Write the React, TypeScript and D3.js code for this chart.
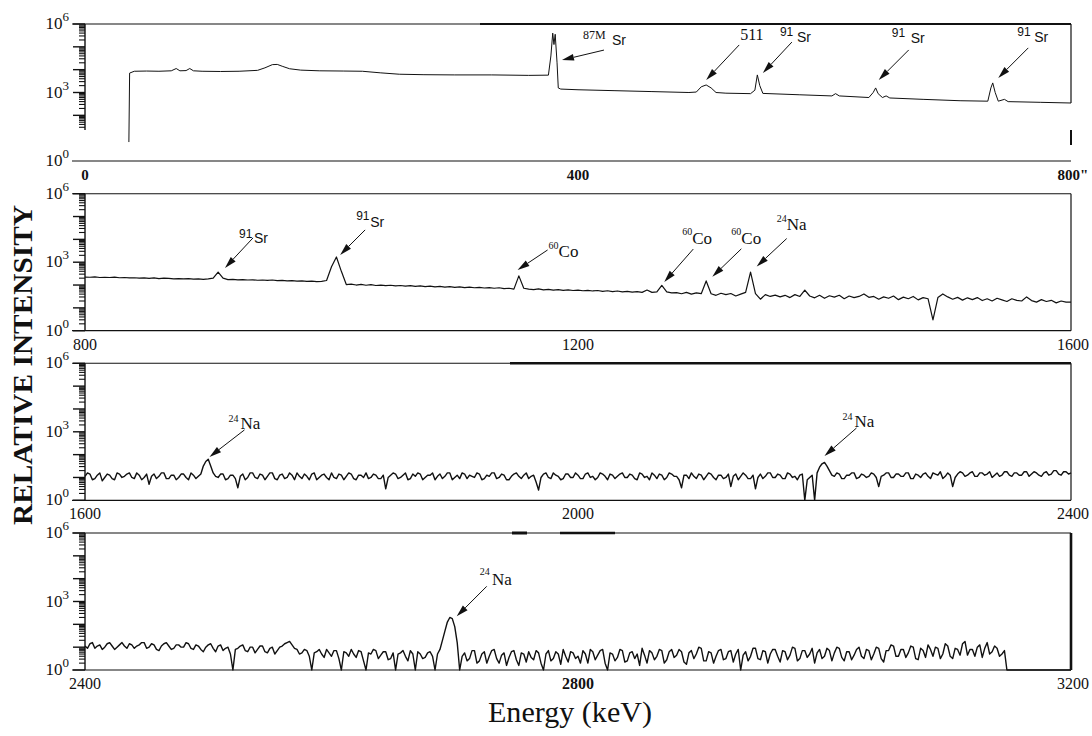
import React from "react";
import * as d3 from "d3";

// ---------------- data ----------------
const panelStartKeV = [0, 800, 1600, 2400];
const panelSpanKeV = 800;
const xTickLabels = [
  ["0", "400", "800\""],
  ["800", "1200", "1600"],
  ["1600", "2000", "2400"],
  ["2400", "2800", "3200"],
];
const yTickExponents = [0, 3, 6];

// Panel 1 (0–800 keV): energy (keV) and log10 of the relative intensity
const p1Energy = [35.6, 36.2, 40, 50, 60, 70, 74, 77, 82, 85, 88, 95, 110, 125, 140, 146, 152, 156, 160, 166, 175, 190, 210, 225, 240, 255, 275, 300, 330, 360, 376, 378, 379.5, 380.5, 381.5, 383, 384, 386, 400, 430, 460, 490, 496, 500, 504, 508, 512, 520, 540, 543.5, 545.5, 547.5, 550, 580, 606, 609, 612, 636, 639.5, 641.5, 643.5, 647, 650, 653, 680, 710, 732.5, 735, 736.5, 738.5, 741, 746, 749, 775, 800];
const p1Log = [0.83, 3.85, 3.93, 3.94, 3.93, 3.95, 4.05, 3.95, 3.96, 4.05, 3.95, 3.93, 3.92, 3.93, 3.97, 4.08, 4.22, 4.23, 4.15, 4.04, 3.98, 3.95, 3.94, 3.93, 3.86, 3.8, 3.78, 3.77, 3.77, 3.75, 3.76, 4.6, 5.6, 5.1, 5.55, 4.3, 3.2, 3.15, 3.12, 3.08, 3.04, 3.0, 3.02, 3.25, 3.33, 3.2, 3.0, 2.97, 2.95, 3.1, 3.77, 3.3, 2.96, 2.9, 2.85, 2.95, 2.85, 2.78, 3.0, 3.2, 2.95, 2.78, 2.85, 2.76, 2.7, 2.64, 2.62, 3.2, 3.42, 3.0, 2.62, 2.7, 2.6, 2.57, 2.54];

// Panel 2 (800–1600 keV): one channel every 4 keV, log10 intensity
const p2StepKeV = 4;
const p2Log = [
  2.35, 2.34, 2.36, 2.33, 2.34, 2.33, 2.35, 2.32, 2.33, 2.31,
  2.32, 2.30, 2.31, 2.29, 2.31, 2.28, 2.30, 2.29, 2.27, 2.28,
  2.27, 2.28, 2.26, 2.27, 2.25, 2.27, 2.30, 2.57, 2.30, 2.24,
  2.25, 2.23, 2.24, 2.22, 2.23, 2.21, 2.22, 2.20, 2.22, 2.19,
  2.20, 2.18, 2.19, 2.17, 2.18, 2.16, 2.17, 2.15, 2.16, 2.20,
  2.80, 3.23, 2.60, 2.02, 2.04, 2.00, 2.03, 1.99, 2.02, 1.98,
  2.00, 1.97, 1.99, 1.96, 1.98, 1.95, 1.97, 1.94, 1.96, 1.93,
  1.95, 1.92, 1.94, 1.91, 1.93, 1.90, 1.92, 1.89, 1.91, 1.88,
  1.90, 1.87, 1.89, 1.86, 1.88, 1.84, 1.86, 1.82, 2.40, 1.86,
  1.82, 1.80, 1.83, 1.79, 1.81, 1.78, 1.80, 1.77, 1.79, 1.76,
  1.78, 1.75, 1.77, 1.74, 1.76, 1.72, 1.75, 1.71, 1.74, 1.70,
  1.72, 1.69, 1.71, 1.68, 1.78, 1.68, 1.70, 1.98, 1.70, 1.66,
  1.67, 1.62, 1.68, 1.60, 1.66, 1.62, 2.18, 1.62, 1.55, 1.64,
  1.58, 1.63, 1.52, 1.60, 1.68, 2.57, 1.62, 1.38, 1.58, 1.50,
  1.56, 1.48, 1.55, 1.45, 1.58, 1.50, 1.78, 1.52, 1.44, 1.55,
  1.42, 1.53, 1.47, 1.55, 1.40, 1.52, 1.45, 1.50, 1.61, 1.46,
  1.50, 1.38, 1.48, 1.42, 1.52, 1.36, 1.47, 1.40, 1.50, 1.35,
  1.45, 1.40, 0.47, 1.45, 1.61, 1.48, 1.38, 1.46, 1.34, 1.44,
  1.36, 1.45, 1.32, 1.40, 1.30, 1.42, 1.35, 1.28, 1.40, 1.33,
  1.30, 1.48, 1.32, 1.25, 1.36, 1.28, 1.33, 1.22, 1.30, 1.25,
  1.25,
];

// Panels 3 and 4: one channel every 2 keV, log10 intensity
const p34StepKeV = 2;
const p3Log = [
  1.05, 1.2, 1.15, 0.9, 0.95, 1.1, 1.2, 0.85, 1.0, 1.15, 1.1, 0.95, 0.9, 1.2, 1.15, 1.0, 1.05, 1.15, 1.2, 1.0,
  0.95, 1.2, 1.1, 0.9, 1.0, 1.15, 0.7, 1.05, 1.15, 0.95, 1.05, 1.2, 1.2, 0.95, 0.95, 1.1, 1.1, 0.9, 1.0, 1.15,
  1.15, 1.0, 0.9, 1.2, 1.1, 0.95, 1.05, 1.15, 1.5, 1.7, 1.8, 1.5, 1.2, 1.05, 1.0, 1.15, 1.15, 0.9, 0.95, 1.1,
  1.1, 0.95, 0.55, 1.05, 1.15, 0.9, 1.0, 1.2, 1.2, 1.0, 0.95, 1.15, 1.1, 0.9, 1.05, 1.2, 1.2, 0.95, 0.9, 1.1,
  1.15, 0.95, 1.0, 1.2, 1.1, 0.9, 1.2, 1.05, 0.95, 1.15, 1.05, 0.9, 1.15, 1.2, 0.9, 1.0, 1.1, 1.15, 1.0, 0.9,
  1.2, 1.0, 0.95, 1.15, 1.1, 0.9, 1.05, 1.2, 1.15, 0.95, 0.9, 1.1, 1.1, 1.0, 1.2, 0.95, 1.0, 1.15, 1.1, 0.95,
  0.95, 1.1, 0.5, 1.0, 1.1, 1.2, 1.15, 0.95, 1.0, 1.1, 1.2, 0.9, 0.95, 1.15, 1.05, 1.2, 1.15, 0.9, 1.0, 1.1,
  1.1, 1.2, 0.9, 1.05, 1.15, 0.95, 1.05, 1.2, 1.2, 0.9, 1.0, 1.1, 0.95, 1.2, 1.15, 0.95, 1.1, 1.05, 1.0, 1.2,
  1.15, 0.9, 0.95, 1.1, 1.05, 1.2, 1.2, 0.95, 1.0, 1.15, 1.1, 0.9, 0.9, 1.05, 1.15, 1.2, 1.05, 0.95, 1.1, 1.2,
  0.95, 1.05, 1.1, 0.8, 0.45, 1.0, 1.15, 1.2, 1.0, 0.95, 1.2, 1.1, 1.05, 0.9, 0.95, 1.15, 1.15, 1.0, 1.0, 1.2,
  1.1, 0.95, 0.95, 1.15, 1.2, 1.0, 1.05, 0.9, 1.0, 1.2, 1.15, 1.05, 0.9, 1.15, 1.1, 0.95, 1.05, 1.15, 1.2, 1.0,
  1.0, 1.15, 1.1, 0.95, 0.9, 1.2, 1.15, 1.0, 1.05, 0.9, 1.2, 1.1, 0.95, 1.15, 1.1, 0.9, 1.0, 1.2, 1.15, 1.05,
  1.05, 0.9, 0.55, 1.1, 1.1, 0.95, 1.2, 1.05, 0.95, 1.15, 1.1, 0.9, 1.05, 1.2, 1.15, 1.0, 0.9, 1.1, 1.1, 0.95,
  1.0, 1.15, 0.6, 1.05, 1.15, 0.9, 1.05, 1.2, 1.1, 0.95, 0.95, 1.1, 0.5, 1.0, 1.15, 0.95, 1.05, 1.2, 1.2, 1.0,
  1.0, 1.15, 1.1, 0.95, 0.95, 1.2, 1.15, 1.0, 1.05, 0.9, 1.1, 1.15, 0.0, 0.9, 1.0, 1.1, 0.0, 1.2, 1.45, 1.6,
  1.66, 1.5, 1.3, 1.1, 1.05, 1.2, 1.15, 0.95, 0.95, 1.1, 1.1, 1.2, 1.2, 0.95, 1.0, 1.15, 1.1, 1.0, 1.05, 1.2,
  1.15, 1.0, 0.6, 1.05, 1.1, 1.2, 1.2, 1.0, 1.0, 1.15, 1.15, 1.05, 1.05, 1.2, 1.2, 0.95, 0.95, 1.15, 1.1, 1.0,
  1.15, 1.2, 1.05, 0.95, 1.2, 1.15, 1.1, 1.25, 0.95, 1.05, 1.2, 1.1, 0.6, 1.0, 1.15, 1.25, 1.2, 1.05, 1.1, 1.2,
  1.25, 1.05, 1.05, 1.2, 1.2, 1.1, 1.15, 1.25, 1.0, 1.1, 1.2, 1.05, 1.1, 1.25, 1.25, 1.1, 1.05, 1.2, 1.2, 1.1,
  1.1, 1.25, 1.25, 1.05, 1.15, 1.25, 1.2, 1.1, 1.05, 1.2, 1.25, 1.1, 1.15, 1.3, 1.3, 1.15, 1.1, 1.25, 1.25, 1.15,
  1.2,
];
const p4Log = [
  1.05, 0.95, 1.15, 1.2, 0.95, 1.05, 1.1, 0.9, 1.0, 1.15, 1.2, 1.05, 0.9, 1.0, 1.1, 1.2, 1.05, 0.95, 1.15, 1.1,
  0.95, 1.05, 1.1, 1.2, 1.2, 0.95, 1.0, 1.15, 1.1, 0.9, 0.85, 1.05, 1.15, 1.2, 1.05, 0.9, 0.95, 1.1, 1.1, 1.0,
  1.0, 1.2, 1.15, 0.95, 0.9, 1.1, 1.05, 0.9, 0.8, 1.0, 1.1, 1.15, 0.95, 0.8, 1.05, 1.1, 0.85, 0.95, 1.0, 0.7,
  0.0, 0.9, 0.95, 1.05, 1.1, 0.85, 0.8, 1.0, 1.0, 0.75, 0.9, 1.05, 1.05, 0.8, 0.75, 0.95, 1.0, 0.7, 0.85, 1.0,
  1.05, 1.15, 1.2, 1.25, 1.1, 0.95, 0.9, 0.7, 0.75, 0.9, 0.85, 0.6, 0.0, 0.75, 0.8, 0.9, 0.7, 0.55, 0.9, 0.75,
  0.6, 0.85, 0.85, 0.5, 0.0, 0.8, 0.75, 0.6, 0.9, 0.7, 0.55, 0.85, 0.8, 0.4, 0.0, 0.75, 0.7, 0.9, 0.85, 0.5,
  0.65, 0.8, 0.8, 0.45, 0.5, 0.75, 0.0, 0.7, 0.75, 0.85, 0.6, 0.4, 0.85, 0.7, 0.0, 0.8, 0.7, 0.5, 0.55, 0.75,
  0.8, 0.6, 0.0, 0.7, 0.9, 1.3, 1.7, 2.1, 2.3, 2.25, 1.9, 1.2, 0.0, 0.6, 0.75, 0.4, 0.5, 0.85, 0.85, 0.3,
  0.4, 0.7, 0.8, 0.3, 0.6, 0.85, 0.9, 0.5, 0.3, 0.65, 0.75, 0.2, 0.55, 0.8, 0.85, 0.45, 0.2, 0.75, 0.7, 0.35,
  0.8, 0.55, 0.45, 0.85, 0.75, 0.3, 0.0, 0.7, 0.85, 0.4, 0.5, 0.8, 0.7, 0.25, 0.9, 0.6, 0.35, 0.8, 0.75, 0.5,
  0.6, 0.3, 0.85, 0.7, 0.3, 0.9, 0.8, 0.45, 0.65, 0.85, 0.9, 0.3, 0.0, 0.75, 0.7, 0.4, 0.55, 0.9, 0.85, 0.35,
  0.4, 0.75, 0.8, 0.5, 0.7, 0.2, 0.95, 0.65, 0.3, 0.85, 0.75, 0.45, 0.6, 0.9, 0.85, 0.3, 0.45, 0.8, 0.9, 0.55,
  0.65, 0.9, 0.8, 0.35, 0.25, 0.75, 0.85, 0.5, 0.7, 1.0, 0.95, 0.4, 0.4, 0.8, 0.75, 0.3, 0.6, 0.85, 0.9, 0.45,
  0.5, 0.8, 0.85, 0.35, 0.7, 0.9, 0.0, 0.65, 0.8, 0.4, 0.6, 0.95, 0.95, 0.5, 0.45, 0.85, 0.8, 0.3, 0.7, 0.9,
  0.9, 0.6, 0.35, 0.85, 0.8, 0.45, 0.65, 1.0, 0.95, 0.4, 0.5, 0.85, 0.85, 0.55, 0.7, 0.95, 0.3, 0.75, 0.9, 0.5,
  0.6, 0.95, 0.85, 0.4, 0.75, 1.0, 0.95, 0.55, 0.4, 0.8, 0.8, 0.45, 0.65, 0.9, 1.0, 0.6, 0.5, 0.9, 0.85, 0.45,
  0.7, 1.0, 0.95, 0.5, 0.35, 0.85, 0.85, 1.1, 1.05, 0.6, 0.6, 0.9, 0.9, 0.55, 0.75, 1.05, 1.0, 0.5, 0.45, 0.95,
  0.85, 0.55, 1.1, 0.9, 0.6, 1.0, 0.95, 0.5, 0.7, 1.15, 1.05, 0.6, 0.5, 0.95, 0.9, 0.65, 1.15, 1.25, 0.65, 0.9,
  0.9, 0.6, 1.0, 1.1, 0.55, 0.95, 1.2, 0.7, 0.8, 1.05, 0.95, 0.6, 0.7, 0.85, 0.0, 0.0, 0.0, 0.0, 0.0, 0.0,
  0.0, 0.0, 0.0, 0.0, 0.0, 0.0, 0.0, 0.0, 0.0, 0.0, 0.0, 0.0, 0.0, 0.0, 0.0, 0.0, 0.0, 0.0, 0.0, 0.0,
  0.0,
];
const channelLogs = [null, p2Log, p3Log, p4Log];
const channelSteps = [0, p2StepKeV, p34StepKeV, p34StepKeV];

// Peak labels: panel index, energy the arrow points at, log10 intensity at the arrow tip
const peakPanel = [0, 0, 0, 0, 0, 1, 1, 1, 1, 1, 1, 2, 2, 3];
const peakEnergy = [387, 504, 550, 644, 741, 913.6, 1007, 1151, 1270, 1309, 1345, 1701, 2200, 2701.6];
const peakArrowLog = [4.42, 3.55, 3.85, 3.55, 3.64, 2.75, 3.32, 2.66, 2.13, 2.36, 2.81, 1.9, 1.94, 2.35];
const peakMass = ["87M", "", "91", "91", "91", "91", "91", "60", "60", "60", "24", "24", "24", "24"];
const peakName = ["Sr", "511", "Sr", "Sr", "Sr", "Sr", "Sr", "Co", "Co", "Co", "Na", "Na", "Na", "Na"];

// ---------------- layout & style ----------------
const SERIF = "'Liberation Serif', 'Times New Roman', Times, serif";
const SANS = "'Liberation Sans', Arial, Helvetica, sans-serif";
const LEFT = 85;
const RIGHT = 1071;
const PANEL_H = 137;
const panelTop = [24, 193.7, 363.3, 533];
const INK = "#111";

type AnnStyle = {
  tail: [number, number];
  sup: [number, number];
  main: [number, number];
  supFont: string;
  supSize: number;
  mainFont: string;
  mainSize: number;
};
const srStyle = { supFont: SANS, supSize: 12, mainFont: SANS, mainSize: 14 };
const isoStyle = { supFont: SERIF, supSize: 10, mainFont: SERIF, mainSize: 17 };
const annLayout: AnnStyle[] = [
  { tail: [42, -10], sup: [-21, -11], main: [8, -5], supFont: SERIF, supSize: 12, mainFont: SANS, mainSize: 14 },
  { tail: [33, -35], sup: [0, 0], main: [1, -5], supFont: SERIF, supSize: 12, mainFont: SERIF, mainSize: 16 },
  { tail: [29, -31], sup: [-12, -6], main: [5, 0], ...srStyle },
  { tail: [30, -30], sup: [-17, -13], main: [2, -7], ...srStyle },
  { tail: [30, -30], sup: [-11, -12], main: [6, -6], ...srStyle },
  { tail: [28, -30], sup: [-14, 0], main: [1, 5], ...srStyle },
  { tail: [25, -25], sup: [-9, -10], main: [5, -3], ...srStyle },
  { tail: [30, -20], sup: [1, -1], main: [11, 7], ...isoStyle },
  { tail: [29, -33], sup: [-11, -14], main: [-1, -5], ...isoStyle },
  { tail: [29, -28], sup: [-10, -14], main: [0, -5], ...isoStyle },
  { tail: [30, -28], sup: [-10, -17], main: [0, -9], ...isoStyle },
  { tail: [35, -27], sup: [-16, -8], main: [-4, -1], ...isoStyle },
  { tail: [32, -28], sup: [-14, -8], main: [-2, -1], ...isoStyle },
  { tail: [30, -30], sup: [-7, -11.7], main: [5.3, -1.7], ...isoStyle },
];

export default function App() {
  const panels = [0, 1, 2, 3].map((p) => {
    const x = d3
      .scaleLinear()
      .domain([panelStartKeV[p], panelStartKeV[p] + panelSpanKeV])
      .range([LEFT, RIGHT]);
    const y = d3.scaleLog().domain([1, 1e6]).range([panelTop[p] + PANEL_H, panelTop[p]]);
    const pts: [number, number][] =
      p === 0
        ? p1Energy.map((e, i) => [e, p1Log[i]])
        : (channelLogs[p] as number[]).map((v, i) => [panelStartKeV[p] + i * channelSteps[p], v]);
    const line = d3
      .line<[number, number]>()
      .x((d) => x(d[0]))
      .y((d) => y(Math.pow(10, d[1])));
    return { p, x, y, pts, path: line(pts) || "" };
  });

  const majorTicks = d3.range(0, 7).map((k) => Math.pow(10, k));
  const minorTicks: number[] = [];
  for (let k = 0; k < 6; k++) for (let m = 2; m <= 9; m++) minorTicks.push(m * Math.pow(10, k));

  return (
    <svg
      width={1092}
      height={736}
      style={{ position: "absolute", left: 0, top: 0, background: "#fff" }}
      fontFamily={SERIF}
    >
      <rect x={0} y={0} width={1092} height={736} fill="#fff" />
      {panels.map(({ p, x, y, pts, path }) => {
        const top = panelTop[p];
        const bottom = top + PANEL_H;
        const minVisible = p === 0 ? 25 : 1;
        const axisBottom = p === 0 ? y(23) : bottom;
        const lastY = y(Math.pow(10, pts[pts.length - 1][1]));
        return (
          <g key={p}>
            {/* frame */}
            <line x1={72} x2={RIGHT} y1={top} y2={top} stroke={INK} strokeWidth={1.1} />
            {p === 0 && <line x1={480} x2={RIGHT} y1={top} y2={top} stroke={INK} strokeWidth={2.2} />}
            {p === 2 && <line x1={510} x2={RIGHT} y1={top} y2={top} stroke={INK} strokeWidth={2.6} />}
            {p === 3 && (
              <g stroke={INK}>
                <line x1={512} x2={527} y1={top} y2={top} strokeWidth={3} />
                <line x1={560} x2={615} y1={top} y2={top} strokeWidth={2.4} />
              </g>
            )}
            <line x1={72} x2={RIGHT} y1={bottom} y2={bottom} stroke={INK} strokeWidth={1.2} />
            <line x1={LEFT} x2={LEFT} y1={top} y2={axisBottom} stroke={INK} strokeWidth={1.4} />
            {p === 0 ? (
              <g stroke={INK}>
                <line x1={RIGHT} x2={RIGHT} y1={top} y2={lastY} strokeWidth={1.2} />
                <line x1={RIGHT} x2={RIGHT} y1={bottom - 31} y2={bottom - 16} strokeWidth={2} />
              </g>
            ) : (
              <line x1={RIGHT} x2={RIGHT} y1={top} y2={bottom} stroke={INK} strokeWidth={p === 3 ? 2.6 : 1.2} />
            )}
            {/* y ticks */}
            {majorTicks
              .filter((v) => v >= minVisible)
              .map((v) => (
                <line key={"M" + v} x1={LEFT - 12} x2={LEFT} y1={y(v)} y2={y(v)} stroke={INK} strokeWidth={1.4} />
              ))}
            {minorTicks
              .filter((v) => v >= minVisible)
              .map((v) => (
                <line key={"m" + v} x1={LEFT - 6} x2={LEFT} y1={y(v)} y2={y(v)} stroke={INK} strokeWidth={1.1} />
              ))}
            {yTickExponents.map((e) => (
              <text
                key={"yl" + e}
                x={69}
                y={y(Math.pow(10, e)) + 5}
                textAnchor="end"
                fontFamily={SERIF}
                fontSize={17}
                fill={INK}
              >
                10
                <tspan dy={-8} fontSize={13}>
                  {e}
                </tspan>
              </text>
            ))}
            {/* x tick labels */}
            {xTickLabels[p].map((lab, i) => (
              <text
                key={"xl" + i}
                x={x(panelStartKeV[p] + (i * panelSpanKeV) / 2) + (i === 2 ? 2 : 0)}
                y={bottom + 19}
                textAnchor="middle"
                fontFamily={SERIF}
                fontSize={p === 0 ? 15 : 16}
                fontWeight={p === 0 || (p === 3 && i === 1) ? "bold" : "normal"}
                fill={INK}
              >
                {lab}
              </text>
            ))}
            {/* spectrum */}
            <path
              d={path}
              fill="none"
              stroke={INK}
              strokeWidth={p === 0 ? 1 : p === 1 ? 1.2 : 1.4}
              strokeLinejoin="round"
            />
          </g>
        );
      })}

      {/* peak annotations */}
      {peakEnergy.map((e, i) => {
        const P = panels[peakPanel[i]];
        const L = annLayout[i];
        const hx = P.x(e);
        const hy = P.y(Math.pow(10, peakArrowLog[i]));
        const tx = hx + L.tail[0];
        const ty = hy + L.tail[1];
        const a = Math.atan2(hy - ty, hx - tx);
        const headLen = 12;
        const hw = 3.3;
        const bx = hx - headLen * Math.cos(a);
        const by = hy - headLen * Math.sin(a);
        const nx = -Math.sin(a) * hw;
        const ny = Math.cos(a) * hw;
        return (
          <g key={"a" + i}>
            <line x1={tx} y1={ty} x2={bx} y2={by} stroke={INK} strokeWidth={1} />
            <polygon points={`${hx},${hy} ${bx + nx},${by + ny} ${bx - nx},${by - ny}`} fill={INK} />
            {peakMass[i] && (
              <text x={tx + L.sup[0]} y={ty + L.sup[1]} fontFamily={L.supFont} fontSize={L.supSize} fill={INK}>
                {peakMass[i]}
              </text>
            )}
            <text x={tx + L.main[0]} y={ty + L.main[1]} fontFamily={L.mainFont} fontSize={L.mainSize} fill={INK}>
              {peakName[i]}
            </text>
          </g>
        );
      })}

      {/* axis titles */}
      <text
        transform="translate(32,365) rotate(-90)"
        textAnchor="middle"
        fontFamily={SERIF}
        fontWeight="bold"
        fontSize={28}
        textLength={320}
        lengthAdjust="spacingAndGlyphs"
        fill={INK}
      >
        RELATIVE INTENSITY
      </text>
      <text
        x={570}
        y={722}
        textAnchor="middle"
        fontFamily={SERIF}
        fontSize={29}
        textLength={164}
        lengthAdjust="spacingAndGlyphs"
        fill={INK}
      >
        Energy (keV)
      </text>
    </svg>
  );
}
